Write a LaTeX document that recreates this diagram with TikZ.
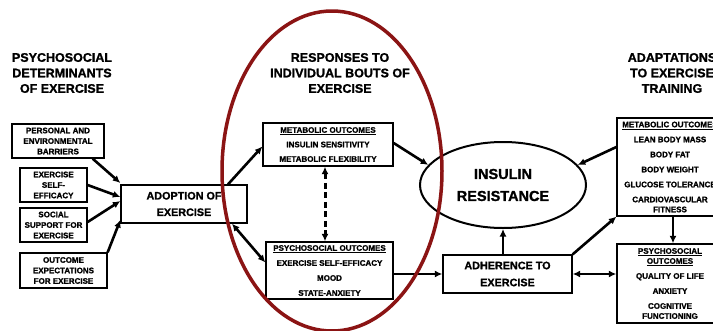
\documentclass[tikz,border=0pt]{standalone}
\usepackage{fontspec}
\setmainfont{Liberation Sans}[BoldFeatures={FakeBold=1.2}]
\usetikzlibrary{arrows.meta,calc,shapes.geometric}
\definecolor{ellred}{RGB}{139,20,20}
\begin{document}
\begin{tikzpicture}[x=1pt,y=-1pt,
  box/.style={draw,line width=1.3pt,rectangle,inner sep=0pt,align=center,font=\bfseries\fontsize{8}{10.5}\selectfont},
  ttl/.style={align=center,font=\bfseries\fontsize{12.5}{15.5}\selectfont,inner sep=0pt},
  bigbox/.style={box,font=\bfseries\fontsize{10.8}{16.5}\selectfont},
  arr/.style={line width=2.6pt,-{Latex[length=7.5pt,width=7pt]}},
  darr/.style={line width=2.6pt,{Latex[length=7.5pt,width=7pt]}-{Latex[length=7.5pt,width=7pt]}},
]
\useasboundingbox (0,0) rectangle (713,330);
\clip (0,0) rectangle (713,330);
\fill[white] (0,0) rectangle (713,330);

% titles
\node[ttl] (t1) at (62,73) {PSYCHOSOCIAL\\DETERMINANTS\\OF EXERCISE};
\node[ttl] (t2) at (340,73) {RESPONSES TO\\INDIVIDUAL BOUTS OF\\EXERCISE};
\node[ttl] (t3) at (672,73) {ADAPTATIONS\\TO EXERCISE\\TRAINING};

% left boxes
\node[box,minimum width=92pt,minimum height=34pt] (pb) at (58,141) {PERSONAL AND\\ENVIRONMENTAL\\BARRIERS};
\node[box,minimum width=67pt,minimum height=34pt] (se) at (53.5,185) {EXERCISE\\SELF-\\EFFICACY};
\node[box,minimum width=67pt,minimum height=34pt] (ss) at (53.5,225) {SOCIAL\\SUPPORT FOR\\EXERCISE};
\node[box,minimum width=87pt,minimum height=35pt] (oe) at (63.5,270.5) {OUTCOME\\EXPECTATIONS\\FOR EXERCISE};

\node[bigbox,minimum width=126pt,minimum height=38pt] (ad) at (184,204) {ADOPTION OF\\EXERCISE};

% middle boxes
\node[box,font=\bfseries\fontsize{8}{14.5}\selectfont,minimum width=130pt,minimum height=43pt] (mo) at (328,144.5)
  {\underline{METABOLIC OUTCOMES}\\INSULIN SENSITIVITY\\METABOLIC FLEXIBILITY};
\node[box,font=\bfseries\fontsize{8}{15}\selectfont,minimum width=127pt,minimum height=57pt] (po) at (329.5,270.5)
  {\underline{PSYCHOSOCIAL OUTCOMES}\\EXERCISE SELF-EFFICACY\\MOOD\\STATE-ANXIETY};

% insulin resistance
\node[ellipse,draw,line width=2pt,minimum width=166pt,minimum height=86pt,inner sep=0pt,align=center,
  font=\bfseries\fontsize{14.5}{22}\selectfont] (ir) at (503,185) {INSULIN\\RESISTANCE};

\node[bigbox,font=\bfseries\fontsize{10.8}{17}\selectfont,minimum width=129pt,minimum height=38pt] (ah) at (507.5,274) {ADHERENCE TO\\EXERCISE};

% right boxes
\node[box,font=\bfseries\fontsize{8}{15}\selectfont,minimum width=106pt,minimum height=98pt] (rm) at (670,167)
  {\underline{METABOLIC OUTCOMES}\\LEAN BODY MASS\\BODY FAT\\BODY WEIGHT\\GLUCOSE TOLERANCE\\CARDIOVASCULAR\\[-5pt]FITNESS};
\node[box,font=\bfseries\fontsize{8}{10}\selectfont,minimum width=106pt,minimum height=79pt] (rp) at (670,283.5)
  {\underline{PSYCHOSOCIAL}\\\underline{OUTCOMES}\\[5pt]QUALITY OF LIFE\\[5pt]ANXIETY\\[5pt]COGNITIVE\\FUNCTIONING};

% connectors left
\draw[arr] ($(pb.south east)+(-12,0)$) -- ($(ad.west)+(0,-21)$);
\draw[arr] (se.east) -- ($(ad.west)+(0,-7)$);
\draw[arr] ($(ss.east)+(0,-3)$) -- ($(ad.west)+(0,-3)$);
\draw[arr] (oe.north east) -- ($(ad.west)+(0,16)$);

% adoption to middle
\draw[arr] ($(ad.north)+(44,0)$) -- ($(mo.west)+(0,2)$);
\draw[darr] ($(ad.south)+(48,0)$) -- ($(po.west)+(0,-8)$);
\draw[darr,line width=3pt,dash pattern=on 6pt off 3.5pt] ($(mo.south)+(-3,0)$) -- ($(po.north)+(-4.5,0)$);

% to insulin resistance
\draw[arr] ($(mo.east)+(0,-1.5)$) -- (ir.165);
\draw[arr] ($(rm.west)+(0,-20)$) -- (ir.15);
\draw[arr] (po.east |- ah.west) -- (ah.west);
\draw[arr] (ir.south |- ah.north) -- (ir.south);
\draw[arr] (ah.north east) -- (rm.south west);
\draw[darr] (ah.east) -- (ah.east -| rp.west);
\draw[arr] ($(rm.south)+(3,0)$) -- ($(rp.north)+(3,0)$);

% red ellipse
\draw[ellred,line width=3.5pt] (332,171) ellipse [x radius=110pt, y radius=160pt];
\end{tikzpicture}
\end{document}
